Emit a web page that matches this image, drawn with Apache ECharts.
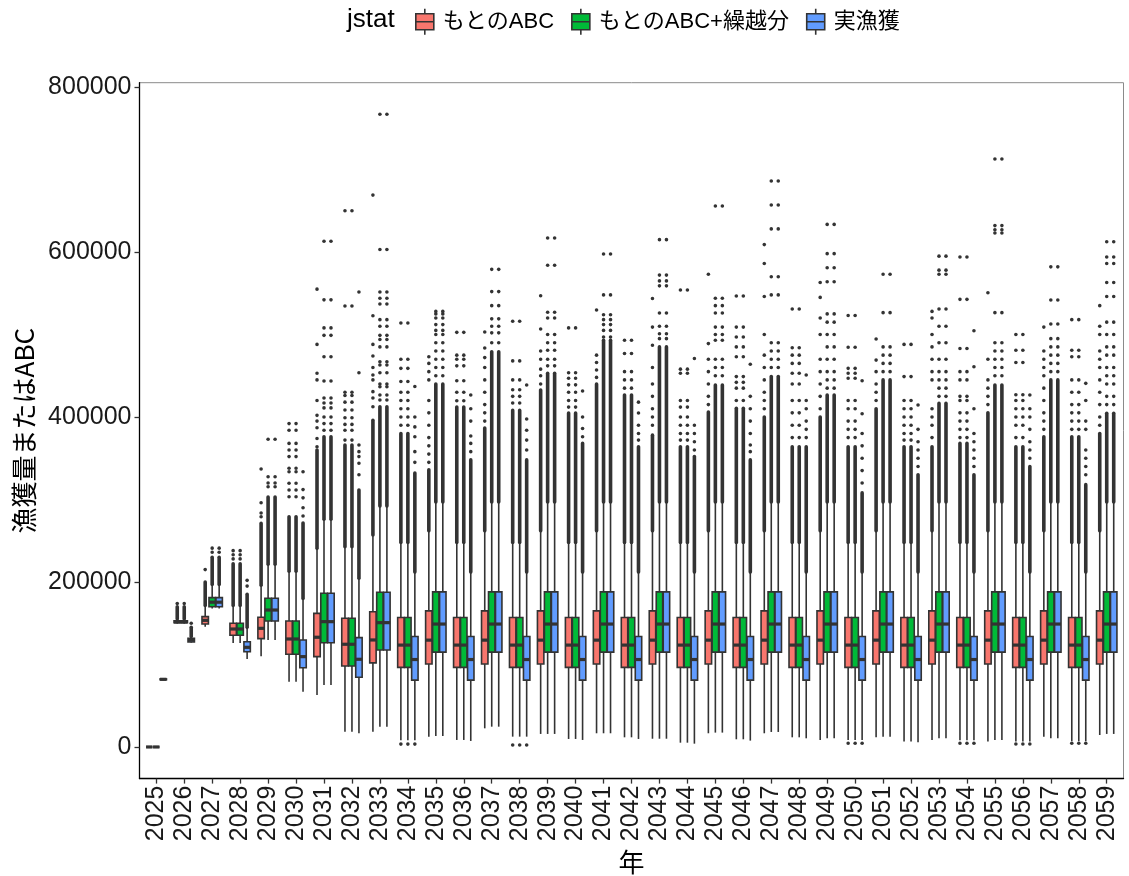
<!DOCTYPE html>
<html><head><meta charset="utf-8">
<script src="https://cdn.jsdelivr.net/npm/echarts@6/dist/echarts.min.js"></script>
<style>html,body{margin:0;padding:0;background:#fff}#c{width:1129px;height:876px}</style>
</head><body><div id="c"></div>
<script>
const years = [2025,2026,2027,2028,2029,2030,2031,2032,2033,2034,2035,2036,2037,2038,2039,2040,2041,2042,2043,2044,2045,2046,2047,2048,2049,2050,2051,2052,2053,2054,2055,2056,2057,2058,2059];
const seriesNames = ['もとのABC','もとのABC+繰越分','実漁獲'];
const seriesColors = ['#F8766D','#00BA38','#619CFF'];
const yTicks = [0,200000,400000,600000,800000];

// [lower whisker, Q1, median, Q3, upper whisker]
const redBox = [
[0,0,0,0,0],[149500,150500,151500,153000,155000],[145800,149000,153500,158000,171500],[126000,135500,143000,150000,171500],
[110000,131300,143800,157200,196000],[79000,112400,130900,152700,213000],[63000,109500,133000,162000,240800],[18500,98200,124500,156000,242700],
[18500,102000,129700,164000,257000],[8000,96500,123500,157000,248000],[12500,100500,129500,165000,262000],[8500,96500,123500,157000,248000],
[22600,100500,129500,165000,262000],[12500,96500,123500,157000,248000],[15800,100500,129500,165000,262000],[9700,96500,123500,157000,248000],
[16600,100500,129500,165000,262000],[11700,96500,123500,157000,248000],[10000,100500,129500,165000,262000],[5200,96500,123500,157000,248000],
[16600,100500,129500,165000,262000],[9300,96500,123500,157000,248000],[16600,100500,129500,165000,262000],[11700,96500,123500,157000,248000],
[8500,100500,129500,165000,262000],[8500,96500,123500,157000,248000],[11700,100500,129500,165000,262000],[6500,96500,123500,157000,248000],
[8500,100500,129500,165000,262000],[8000,96500,123500,157000,248000],[6500,100500,129500,165000,262000],[6500,96500,123500,157000,248000],
[12500,100500,129500,165000,262000],[7000,96500,123500,157000,248000],[14500,100500,129500,165000,262000]
];
const greenBox = [
[0,0,0,0,0],[149500,150500,151500,153000,155000],[168000,170000,175500,181000,197000],[126000,135500,143000,150000,171500],
[129700,152700,166000,180200,221500],[79000,112400,130900,152700,213000],[75000,126400,151900,186300,276000],[18500,98200,124500,156000,242700],
[24600,117600,150700,187500,292000],[8000,96500,123500,157000,248000],[13300,115000,149000,188000,297000],[8500,96500,123500,157000,248000],
[24600,115000,149000,188000,297000],[12500,96500,123500,157000,248000],[15800,115000,149000,188000,297000],[9700,96500,123500,157000,248000],
[16600,115000,149000,188000,297000],[11700,96500,123500,157000,248000],[10000,115000,149000,188000,297000],[5200,96500,123500,157000,248000],
[17400,115000,149000,188000,297000],[9300,96500,123500,157000,248000],[18200,115000,149000,188000,297000],[11700,96500,123500,157000,248000],
[10500,115000,149000,188000,297000],[8500,96500,123500,157000,248000],[12500,115000,149000,188000,297000],[6500,96500,123500,157000,248000],
[10500,115000,149000,188000,297000],[8000,96500,123500,157000,248000],[8500,115000,149000,188000,297000],[6500,96500,123500,157000,248000],
[10500,115000,149000,188000,297000],[7000,96500,123500,157000,248000],[15800,115000,149000,188000,297000]
];
const blueBox = [
[81000,81500,82000,82500,83000],[126500,127300,129500,131700,134000],[168000,170000,175500,181000,197000],[106700,115500,120800,127600,145000],
[129700,152700,166000,180200,221500],[67000,96100,109500,129700,180000],[75000,126400,151900,186300,276000],[16600,84500,106300,132500,204500],
[24600,117600,150700,187500,292000],[8000,81000,106000,134000,212000],[13300,115000,149000,188000,297000],[7300,81000,106000,134000,212000],
[24600,115000,149000,188000,297000],[12500,81000,106000,134000,212000],[15800,115000,149000,188000,297000],[8500,81000,106000,134000,212000],
[16600,115000,149000,188000,297000],[9700,81000,106000,134000,212000],[10000,115000,149000,188000,297000],[4000,81000,106000,134000,212000],
[17400,115000,149000,188000,297000],[7700,81000,106000,134000,212000],[18200,115000,149000,188000,297000],[10500,81000,106000,134000,212000],
[10500,115000,149000,188000,297000],[8500,81000,106000,134000,212000],[12500,115000,149000,188000,297000],[5700,81000,106000,134000,212000],
[10500,115000,149000,188000,297000],[8000,81000,106000,134000,212000],[8500,115000,149000,188000,297000],[6500,81000,106000,134000,212000],
[10500,115000,149000,188000,297000],[7000,81000,106000,134000,212000],[15800,115000,149000,188000,297000]
];

// top of the densely packed run of outliers above each upper whisker (0 = none)
const redDenseTop = [0,170000,200000,222000,271000,279000,360000,366000,396000,380000,336000,412000,386700,408000,432700,404800,440000,426700,378000,364000,406000,410500,400000,364000,400000,364000,410000,364000,364000,368000,405000,364000,376000,376000,380000];
const greenDenseTop = [0,170000,230000,222000,303000,279000,376000,366000,412500,380000,440000,412000,479000,408000,453000,404800,493000,426700,485000,364000,438800,410500,449000,364000,426700,364000,445000,364000,416500,368000,438800,364000,445000,376000,404500];
const blueDenseTop = [0,145000,230000,185000,303000,271500,376000,311500,412500,332000,440000,348000,479000,348000,453000,368000,493000,364000,485000,352000,438800,348000,449000,364000,426700,308000,445000,330000,416500,330000,438800,340000,445000,318000,404500];

// individual outliers
const redOutliers = [
[],[174000],[215000],[228000,233000,238000],[279000,283600,296000,337000],
[303400,311500,319600,333700,337800,352000,360000,368000,384000,392000],
[364000,374000,387000,395000,402000,420000,445000,453000,488000,555000],
[372000,384000,391000,399000,408500,418000,426000,430000,534500,650000],
[412500,423000,430700,445000,451000,460000,474000,488000,522800,669000],
[390000,400000,410000,420000,430000,443000,459000,470000,514000,3500],
[345000,355000,365000,375000,390000,405000,420000,445000,455000,465000,473000],
[419700,430000,444000,462000,470000,475000,502600],
[395000,405000,415000,430000,445000,460000,472000,483600,503000],
[417000,425000,433000,445000,468000,516000,2400],
[440000,450000,458000,470000,480000,506600,547000],
[412000,420000,430000,439000,447000,453700,508000],
[448000,457000,466000,475000,529700],
[435000,445000,455000,477000,493000],
[390000,400000,410000,425000,440000,460000,487000,509000,543700],
[372000,380000,390000,400000,412000,420000,453000,458000,554000],
[415000,425000,440000,455000,470000,489000,573000],
[420000,435000,442000,449000,473000,485000,497000,509000,546700],
[410000,420000,430000,445000,460000,475000,500000,546000,586000,609000],
[375000,390000,405000,420000,440000,453000,465000,475000,484000,530900],
[410000,425000,440000,455000,470000,500000,520000,545000,563000],
[375000,385000,395000,410000,420000,447000,453000,459000,484500,523000,4500],
[420000,430000,440000,455000,469000,494500],
[372000,380000,390000,400000,410000,420000,449000,488000],
[375000,390000,400000,410000,445000,455000,470000,485000,500000,520000,528000],
[375000,385000,395000,405000,420000,425000,445000,455000,483000,542600,594000,4500],
[415000,425000,435000,445000,470000,550700],
[375000,390000,400000,410000,420000,427000,466000,481000,500000,3600],
[385000,395000,405000,420000,435000,450000,460000,470000,480000,509000],
[385000,395000,405000,415000,430000,445000,473000,481000,518000,4500],
[390000,400000,415000,430000,445000,460000,470000,480000,500000,510000,535000]
];
const greenOutliers = [
[],[174000],[236000,241000],[228000,233000,238000],[315500,320000,327600,373000],
[303400,311500,319600,333700,337800,352000,360000,368000,384000,392000],
[384000,392000,400000,411000,417000,423000,443600,473000,499000,508000,542000,613000],
[372000,384000,391000,399000,408500,418000,426000,430000,534500,650000],
[420600,426700,436700,440000,453700,463000,467000,485000,494000,499000,510000,518000,537000,544000,551500,603000,767000],
[390000,400000,410000,420000,430000,443000,459000,470000,514000,3500],
[450000,460000,470000,480000,490000,500000,505000,512000,520000,525000,528000],
[419700,430000,444000,462000,470000,475000,502600],
[490000,502000,510000,519000,535000,552000,579000],
[417000,425000,433000,445000,468000,516000,2400],
[462000,470000,481000,490000,500000,520000,527000,584000,617000],
[412000,420000,430000,439000,447000,453700,508000],
[497000,505000,512000,518000,524000,548000,597600],
[435000,445000,455000,477000,493000],
[495000,501000,510000,526000,559000,565000,572000,615000],
[372000,380000,390000,400000,412000,420000,453000,458000,554000],
[450000,460000,470000,493000,500000,509000,526000,535000,544000,655800],
[420000,435000,442000,449000,473000,485000,497000,509000,546700],
[460000,470000,480000,490000,548000,570000,628000,657000,686000],
[375000,390000,405000,420000,440000,453000,465000,475000,484000,530900],
[435000,445000,455000,470000,485000,500000,515000,525000,564000,581000,598000,633500],
[375000,385000,395000,410000,420000,447000,453000,459000,484500,523000,4500],
[455000,465000,475000,485000,526500,573000],
[372000,380000,390000,400000,410000,420000,449000,488000],
[425000,435000,445000,455000,470000,490000,510000,531000,573000,578000,595000],
[375000,385000,395000,405000,420000,425000,445000,455000,483000,542600,594000,4500],
[450000,460000,470000,480000,490000,526500,623000,627000,632000,712700],
[375000,390000,400000,410000,420000,427000,466000,481000,500000,3600],
[455000,465000,475000,485000,495000,512700,541800,582000],
[385000,395000,405000,415000,430000,445000,473000,481000,518000,4500],
[415000,425000,440000,450000,460000,475000,485000,500000,515000,546000,563000,586000,594000,612500]
];
const blueOutliers = [
[],[150000],[236000,241000],[195000,202000],[315500,320000,327600,373000],
[280000,290000,302000,312000,333700],
[384000,392000,400000,411000,417000,423000,443600,473000,499000,508000,542000,613000],
[330000,344000,352000,358000,366000,453700,551500],
[420600,426700,436700,440000,453700,463000,467000,485000,494000,499000,510000,518000,537000,544000,551500,603000,767000],
[345000,358000,376000,388000,400000,437000,3500],
[450000,460000,470000,480000,490000,500000,505000,512000,520000,525000,528000],
[358000,368000,377000,395000,410000,426700],
[490000,502000,510000,519000,535000,552000,579000],
[360000,372000,384000,397600,438800,2400],
[462000,470000,481000,490000,500000,520000,527000,584000,617000],
[376000,386000,400000,431500],
[497000,505000,512000,518000,524000,548000,597600],
[372000,380000,390000,404800,418000],
[495000,501000,510000,526000,559000,565000,572000,615000],
[360000,370000,380000,390000,471000],
[450000,460000,470000,493000,500000,509000,526000,535000,544000,655800],
[358000,366000,380000,395000,410000,425000,464000],
[460000,470000,480000,490000,548000,570000,628000,657000,686000],
[375000,385000,395000,410000,420000,451000],
[435000,445000,455000,470000,485000,500000,515000,525000,564000,581000,598000,633500],
[320000,335000,350000,365000,380000,404000,444000,4500],
[455000,465000,475000,485000,526500,573000],
[340000,350000,360000,370000,385000,414500],
[425000,435000,445000,455000,470000,490000,510000,531000,573000,578000,595000],
[340000,350000,360000,370000,380000,410000,461000,504600,4500],
[450000,460000,470000,480000,490000,526500,623000,627000,632000,712700],
[350000,360000,370000,385000,400000,410000,426700,3600],
[455000,465000,475000,485000,495000,512700,541800,582000],
[330000,340000,350000,360000,385000,395000,420000,440800,4500],
[415000,425000,440000,450000,460000,475000,485000,500000,515000,546000,563000,586000,594000,612500]
];

const INK = '#333333';
const boxes = [redBox, greenBox, blueBox];
const denseTops = [redDenseTop, greenDenseTop, blueDenseTop];
const outliers = [redOutliers, greenOutliers, blueOutliers];

function slotX(api, year, k) {
  const bw = api.size([1, 0])[0];
  return { cx: api.coord([year, 0])[0] + (k - 1) * bw * 0.25, w: bw * 0.25 * 0.92 };
}

function boxSeries(k) {
  const data = years.map((y, i) => [y].concat(boxes[k][i], [denseTops[k][i]]));
  return {
    type: 'custom', name: seriesNames[k], itemStyle: { color: seriesColors[k] },
    data: data, encode: { x: 0, y: [1, 2, 3, 4, 5] }, z: 3,
    renderItem: function (params, api) {
      const yr = api.value(0);
      const s = slotX(api, yr, k);
      const py = v => api.coord([yr, v])[1];
      const lo = api.value(1), q1 = api.value(2), md = api.value(3), q3 = api.value(4), hi = api.value(5), dt = api.value(6);
      const ch = [];
      if (dt > hi) ch.push({ type: 'line', shape: { x1: s.cx, y1: py(hi), x2: s.cx, y2: py(dt) }, style: { stroke: INK, lineWidth: 3.6, lineCap: 'round' } });
      ch.push({ type: 'line', shape: { x1: s.cx, y1: py(q3), x2: s.cx, y2: py(hi) }, style: { stroke: INK, lineWidth: 1.6 } });
      ch.push({ type: 'line', shape: { x1: s.cx, y1: py(q1), x2: s.cx, y2: py(lo) }, style: { stroke: INK, lineWidth: 1.6 } });
      ch.push({ type: 'rect', shape: { x: s.cx - s.w / 2, y: py(q3), width: s.w, height: py(q1) - py(q3) }, style: { fill: seriesColors[k], stroke: INK, lineWidth: 1.6 } });
      ch.push({ type: 'line', shape: { x1: s.cx - s.w / 2, y1: py(md), x2: s.cx + s.w / 2, y2: py(md) }, style: { stroke: INK, lineWidth: 3.2 } });
      return { type: 'group', children: ch };
    }
  };
}

function outlierSeries(k) {
  const data = [];
  years.forEach((y, i) => outliers[k][i].forEach(v => data.push([y, v])));
  return {
    type: 'custom', name: seriesNames[k], itemStyle: { color: seriesColors[k] },
    data: data, encode: { x: 0, y: 1 }, z: 2,
    renderItem: function (params, api) {
      const yr = api.value(0);
      const s = slotX(api, yr, k);
      const p = api.coord([yr, api.value(1)]);
      return { type: 'circle', shape: { cx: s.cx, cy: p[1], r: 1.8 }, style: { fill: INK } };
    }
  };
}

const legendIcon = 'path://M0,5 L18,5 L18,21 L0,21 Z M0,13 L18,13 M9,0 L9,5 M9,21 L9,26';
const latin = '"Liberation Sans", "Noto Sans CJK JP", sans-serif';

const chart = echarts.init(document.getElementById('c'), null, { renderer: 'canvas' });
chart.setOption({
  animation: false,
  backgroundColor: '#ffffff',
  color: seriesColors,
  title: { text: 'jstat', left: 347, top: 7, padding: 0, textStyle: { fontSize: 26, fontWeight: 'normal', fontFamily: latin, color: '#000' } },
  legend: {
    left: 415, top: 8, padding: 0, itemWidth: 18, itemHeight: 26, itemGap: 17, selectedMode: false,
    data: seriesNames.map(n => ({ name: n, icon: legendIcon })),
    itemStyle: { borderColor: INK, borderWidth: 1.6 },
    textStyle: { fontSize: 22, fontFamily: latin, color: '#000', padding: [0, 0, 0, 4] }
  },
  grid: { left: 139.5, right: 5.5, top: 82.7, bottom: 97.4, show: true, borderColor: '#8a8a8a', borderWidth: 1, containLabel: false, outerBoundsMode: 'none' },
  xAxis: {
    type: 'value', min: 2024.4, max: 2059.6,
    splitLine: { show: false },
    axisLine: { show: true, onZero: false, lineStyle: { color: '#000', width: 1.3 } },
    axisTick: { show: true, customValues: years, length: 5, lineStyle: { color: INK, width: 1.3 } },
    axisLabel: { customValues: years, rotate: 90, fontSize: 25, fontFamily: latin, color: '#1a1a1a', margin: 7, formatter: v => String(v) },
    name: '年', nameLocation: 'middle', nameGap: 70,
    nameTextStyle: { fontSize: 26, fontFamily: '"Noto Sans CJK JP", sans-serif', color: '#000' }
  },
  yAxis: {
    type: 'value', min: -38345, max: 805245,
    splitLine: { show: false },
    axisLine: { show: true, onZero: false, lineStyle: { color: '#000', width: 1.3 } },
    axisTick: { show: true, customValues: yTicks, length: 5, lineStyle: { color: INK, width: 1.3 } },
    axisLabel: { customValues: yTicks, fontSize: 25, fontFamily: latin, color: '#1a1a1a', margin: 8, formatter: v => String(v) },
    name: '漁獲量またはABC', nameLocation: 'middle', nameGap: 101, nameRotate: 90,
    nameTextStyle: { fontSize: 26, fontFamily: '"Noto Sans CJK JP", sans-serif', color: '#000' }
  },
  series: [boxSeries(0), boxSeries(1), boxSeries(2), outlierSeries(0), outlierSeries(1), outlierSeries(2)]
});
</script></body></html>
